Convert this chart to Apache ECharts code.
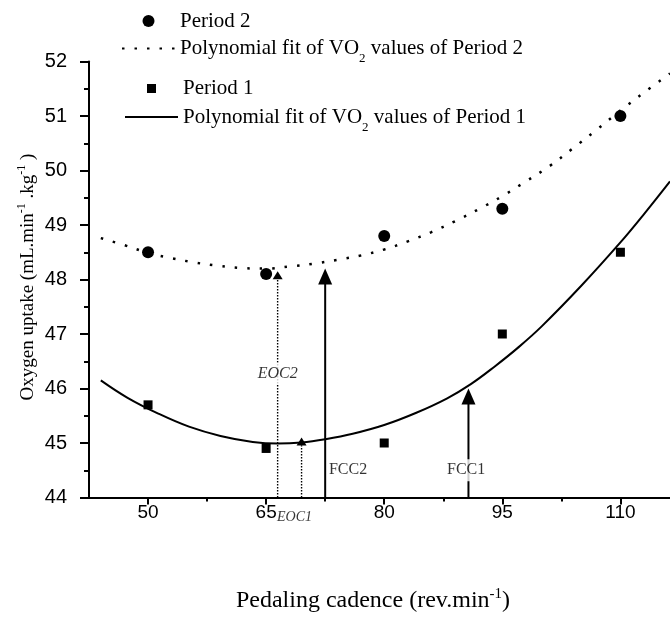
<!DOCTYPE html>
<html><head><meta charset="utf-8">
<script src="https://cdn.jsdelivr.net/npm/echarts@6/dist/echarts.min.js"></script>
<style>html,body{margin:0;padding:0;background:#fff}#c{width:670px;height:627px}</style>
</head><body><div id="c"></div>
<script>
// ---- data ----
const cadence = [50, 65, 80, 95, 110];
const period2 = [48.5, 48.1, 48.8, 49.3, 51.0];
const period1 = [45.7, 44.9, 45.0, 47.0, 48.5];

// polynomial fit curves
const fit2X = [44, 47, 50, 53, 56, 59, 62, 65, 68, 71, 74, 77, 80, 83, 86, 89, 92, 95, 98, 101, 104, 107, 110, 113, 116.3];
const fit2Y = [48.76, 48.63, 48.49, 48.39, 48.31, 48.25, 48.21, 48.20, 48.24, 48.29, 48.36, 48.44, 48.55, 48.70, 48.87, 49.07, 49.29, 49.53, 49.80, 50.08, 50.41, 50.75, 51.10, 51.43, 51.78];
const fit1X = [44, 47.4, 51.3, 55.2, 59.2, 63.3, 66.5, 69.5, 72.5, 76, 80, 84, 88, 91, 94, 97, 100, 105, 110, 113, 116.3];
const fit1Y = [46.15, 45.83, 45.54, 45.30, 45.13, 45.02, 44.99, 45.01, 45.07, 45.17, 45.33, 45.55, 45.82, 46.08, 46.40, 46.75, 47.14, 47.88, 48.68, 49.20, 49.80];

// annotations: optimal cadences
const eocX = [66.46, 69.5];
const eocTip = [48.15, 45.1];
const fccX = [72.5, 90.7];
const fccTip = [48.2, 46.0];
const labelText = ['EOC2', 'EOC1', 'FCC2', 'FCC1'];
const labelX = [66.46, 68.6, 75.4, 90.4];
const labelY = [46.27, 43.64, 44.5, 44.5];

// axis ticks
const xMajor = [50, 65, 80, 95, 110];
const xMinor = [57.5, 72.5, 87.5, 102.5];

const nameP2 = 'Period 2', nameF2 = 'Polynomial fit of VO2 values of Period 2';
const nameP1 = 'Period 1', nameF1 = 'Polynomial fit of VO2 values of Period 1';

const zip = (a, b) => a.map((v, i) => [v, b[i]]);
const SERIF = 'Liberation Serif', SANS = 'Liberation Sans';

const eocTri = [10, 8], fccTri = [14, 16];
const triData = [];
eocX.forEach((x, i) => triData.push({ value: [x, eocTip[i]], symbolSize: eocTri, symbolOffset: [0, eocTri[1] / 2] }));
fccX.forEach((x, i) => triData.push({ value: [x, fccTip[i]], symbolSize: fccTri, symbolOffset: [0, fccTri[1] / 2] }));

const shaftSeries = [];
eocX.forEach((x, i) => shaftSeries.push({
  type: 'line', data: [[x, 44], [x, eocTip[i] - 0.14]], symbol: 'none', silent: true, z: 3,
  lineStyle: { color: '#000', width: 1.4, type: [1.4, 1.6] }
}));
fccX.forEach((x, i) => shaftSeries.push({
  type: 'line', data: [[x, 44], [x, fccTip[i] - 0.26]], symbol: 'none', silent: true, z: 3,
  lineStyle: { color: '#000', width: 2 }
}));

const LFS = 21;
const legendRich = {
  p: { fontFamily: SERIF, fontSize: LFS, lineHeight: 20, color: '#000' },
  n: { fontFamily: SERIF, fontSize: LFS, lineHeight: 34, color: '#000', verticalAlign: 'middle' },
  s: { fontFamily: SERIF, fontSize: 13, lineHeight: 13, color: '#000', verticalAlign: 'top', padding: [21, 0, 0, 0] }
};
const legendFmt = (name) => {
  if (name.indexOf('VO2') >= 0) {
    const parts = name.split('VO2');
    return '{n|' + parts[0] + 'VO}{s|2}{n|' + parts[1] + '}';
  }
  return '{p|' + name + '}';
};
const SQUARE = 'path://M0,0H10V10H0Z';

const chart = echarts.init(document.getElementById('c'), null, { renderer: 'canvas' });
chart.setOption({
  animation: false,
  backgroundColor: '#fff',
  grid: { left: 89, right: 0, top: 61.5, bottom: 129.5, containLabel: false },
  legend: [
    { data: [{ name: nameP2, icon: 'circle' }, { name: nameF2, itemStyle: { opacity: 0 } }],
      orient: 'vertical', left: 121, top: 10.5, padding: 0, itemWidth: 53, itemHeight: 12, itemGap: 0,
      formatter: legendFmt, textStyle: { rich: legendRich }, selectedMode: false },
    { data: [{ name: nameP1, icon: SQUARE }, { name: nameF1, itemStyle: { opacity: 0 } }],
      orient: 'vertical', left: 124, top: 78, padding: 0, itemWidth: 53, itemHeight: 9, itemGap: 1,
      formatter: legendFmt, textStyle: { rich: legendRich }, selectedMode: false }
  ],
  xAxis: [
    { type: 'value', min: 42.5, max: 116.3, position: 'bottom',
      axisLine: { lineStyle: { color: '#000', width: 2 } },
      axisTick: { customValues: xMajor, length: 7, lineStyle: { color: '#000', width: 2 } },
      axisLabel: { customValues: xMajor, color: '#000', fontFamily: SANS, fontSize: 19, margin: 6 },
      splitLine: { show: false } },
    { type: 'value', min: 42.5, max: 116.3, position: 'bottom', offset: 0,
      axisLine: { show: false },
      axisTick: { customValues: xMinor, length: 4, lineStyle: { color: '#000', width: 2 } },
      axisLabel: { show: false }, splitLine: { show: false } }
  ],
  yAxis: {
    type: 'value', min: 44, max: 52, interval: 1,
    axisLine: { show: true, lineStyle: { color: '#000', width: 2 } },
    axisTick: { show: true, length: 9, lineStyle: { color: '#000', width: 2 } },
    minorTick: { show: true, splitNumber: 2, length: 5, lineStyle: { color: '#000', width: 2 } },
    axisLabel: { color: '#000', fontFamily: SANS, fontSize: 20, margin: 22 },
    splitLine: { show: false }
  },
  graphic: [
    { type: 'text', x: 28, y: 277, rotation: Math.PI / 2,
      style: { text: '{n|Oxygen uptake (mL.min}{u|-1}{n| .kg}{u|-1}{n| )}', align: 'center', verticalAlign: 'middle',
        rich: { n: { fontFamily: SERIF, fontSize: 19, lineHeight: 24, verticalAlign: 'middle', fill: '#000' },
                u: { fontFamily: SERIF, fontSize: 12, lineHeight: 13, verticalAlign: 'top', fill: '#000' } } } },
    { type: 'text', x: 373, y: 601,
      style: { text: '{n|Pedaling cadence (rev.min}{u|-1}{n|)}', align: 'center', verticalAlign: 'middle',
        rich: { n: { fontFamily: SERIF, fontSize: 24, lineHeight: 28, verticalAlign: 'middle', fill: '#000' },
                u: { fontFamily: SERIF, fontSize: 15, lineHeight: 15, verticalAlign: 'top', fill: '#000' } } } }
  ],
  series: [
    { name: nameF2, type: 'line', data: zip(fit2X, fit2Y), smooth: 0.4, symbol: 'none', clip: false, z: 2,
      lineStyle: { color: '#000', width: 2.5, type: [2.5, 10], cap: 'butt' }, itemStyle: { color: '#000' } },
    { name: nameP2, type: 'scatter', data: zip(cadence, period2), symbol: 'circle', symbolSize: 12, z: 4,
      itemStyle: { color: '#000', opacity: 1 } },
    { name: nameF1, type: 'line', data: zip(fit1X, fit1Y), smooth: 0.4, symbol: 'none', clip: false, z: 2,
      lineStyle: { color: '#000', width: 2 }, itemStyle: { color: '#000' } },
    { name: nameP1, type: 'scatter', data: zip(cadence, period1), symbol: 'rect', symbolSize: 9, z: 4,
      itemStyle: { color: '#000', opacity: 1 } },
    ...shaftSeries,
    { type: 'scatter', data: triData, symbol: 'triangle', z: 5, silent: true, itemStyle: { color: '#000', opacity: 1 } },
    { type: 'scatter', data: zip(labelX, labelY).map((v, i) => ({
        value: v,
        label: { show: true, position: 'inside', formatter: labelText[i],
          fontFamily: SERIF, fontSize: i === 1 ? 14 : 16, color: '#000',
          fontStyle: labelText[i].indexOf('EOC') === 0 ? 'italic' : 'normal',
          backgroundColor: i === 1 ? 'transparent' : '#fff', padding: [3, 1] } })),
      symbolSize: 1, clip: false, z: 6, silent: true, itemStyle: { color: 'rgba(0,0,0,0)' } }
  ]
});
</script></body></html>
